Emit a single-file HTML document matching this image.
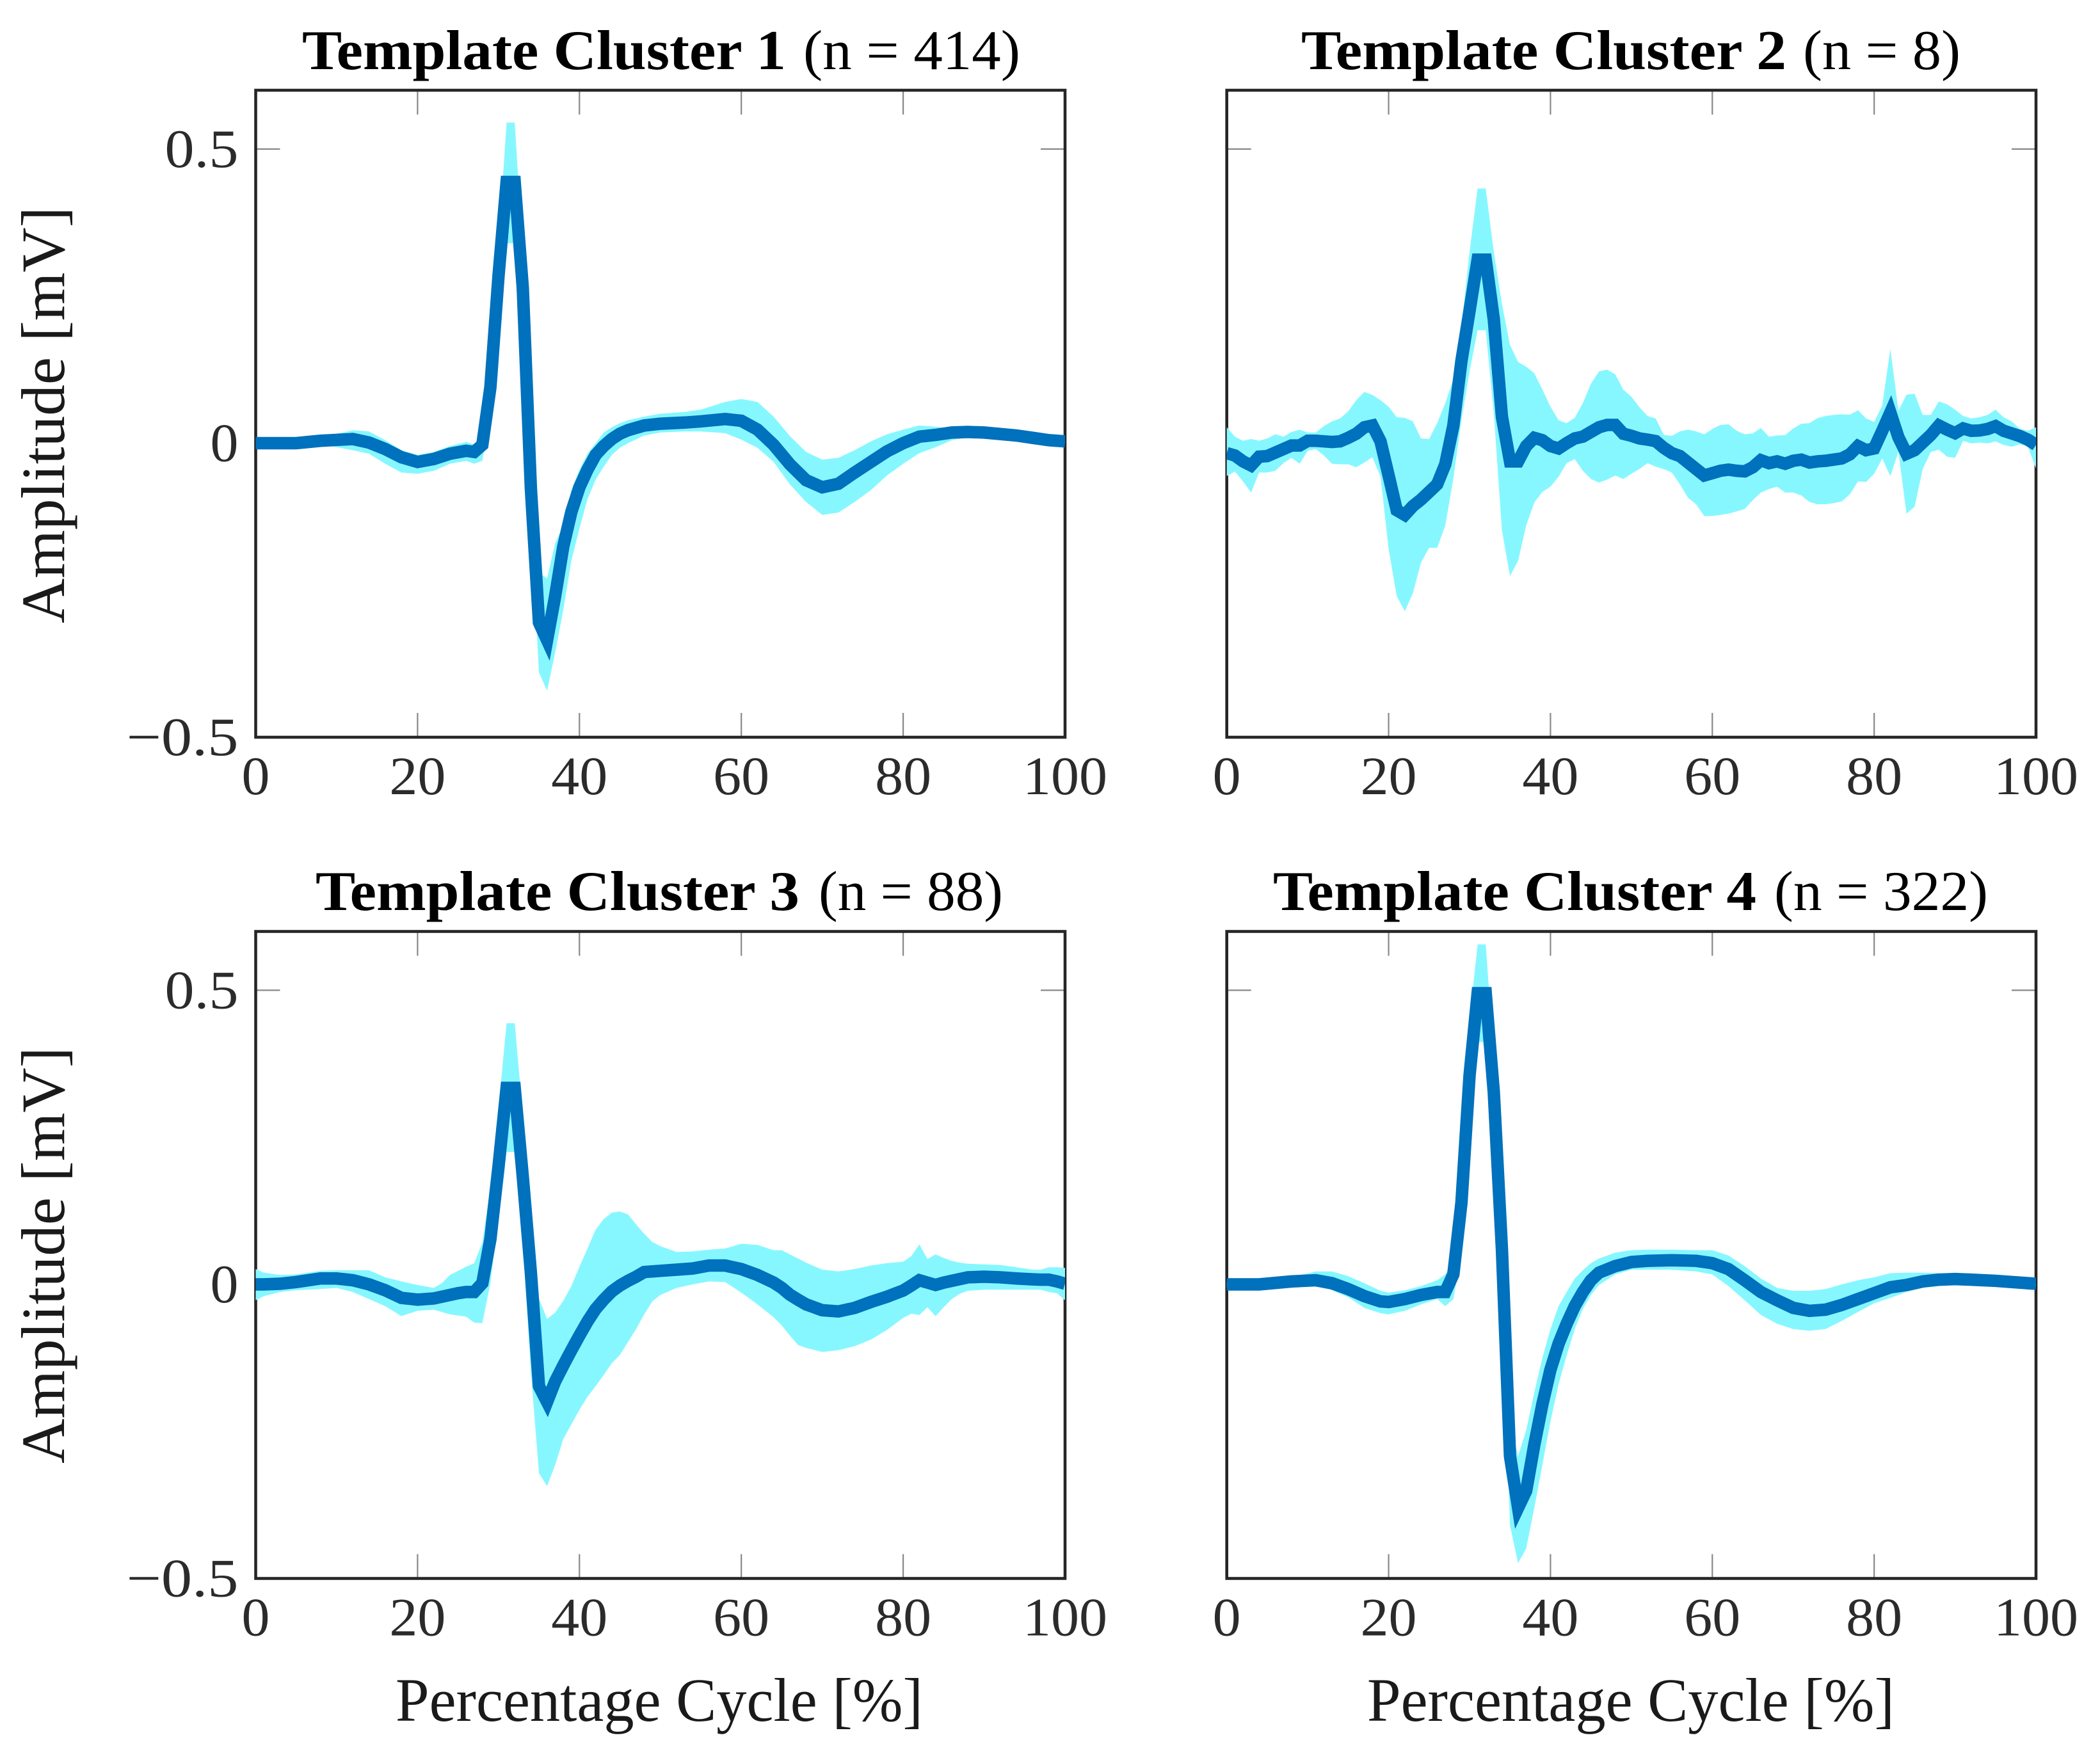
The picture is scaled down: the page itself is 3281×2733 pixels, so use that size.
<!DOCTYPE html>
<html lang="en">
<head>
<meta charset="utf-8">
<title>Template Clusters</title>
<style>
html,body{margin:0;padding:0;background:#fff;}
svg{display:block;}
text{font-family:"Liberation Serif",serif;}
.title{font-size:88px;fill:#000;}
.tb{font-weight:bold;}
.axl{font-size:96px;fill:#1a1a1a;}
.tick{font-size:85px;fill:#2b2b2b;}
</style>
</head>
<body>
<svg id="chart" xmlns="http://www.w3.org/2000/svg" width="3281" height="2733" viewBox="0 0 3281 2733">
  <rect x="0" y="0" width="3281" height="2733" fill="#fff"/>
  <defs>
    <clipPath id="clip-1"><rect x="399.5" y="141" width="1264.5" height="1011"/></clipPath>
    <clipPath id="clip-2"><rect x="1916.7" y="141" width="1264.3" height="1011"/></clipPath>
    <clipPath id="clip-3"><rect x="399.5" y="1455.5" width="1264.5" height="1011"/></clipPath>
    <clipPath id="clip-4"><rect x="1916.7" y="1455.5" width="1264.3" height="1011"/></clipPath>
  </defs>

  <g>
    <text class="title tb" x="472" y="108" textLength="756" lengthAdjust="spacingAndGlyphs">Template Cluster 1</text>
    <text class="title" x="1255" y="108" textLength="339" lengthAdjust="spacingAndGlyphs">(n = 414)</text>
    <text class="title tb" x="2033" y="108" textLength="758" lengthAdjust="spacingAndGlyphs">Template Cluster 2</text>
    <text class="title" x="2817" y="108" textLength="246" lengthAdjust="spacingAndGlyphs">(n = 8)</text>
    <text class="title tb" x="493" y="1422" textLength="756" lengthAdjust="spacingAndGlyphs">Template Cluster 3</text>
    <text class="title" x="1279" y="1422" textLength="288" lengthAdjust="spacingAndGlyphs">(n = 88)</text>
    <text class="title tb" x="1989" y="1422" textLength="755" lengthAdjust="spacingAndGlyphs">Template Cluster 4</text>
    <text class="title" x="2772" y="1422" textLength="334" lengthAdjust="spacingAndGlyphs">(n = 322)</text>
  </g>

  <text class="axl" transform="translate(100 974) rotate(-90)" x="0" y="0" textLength="651" lengthAdjust="spacingAndGlyphs">Amplitude [mV]</text>
  <text class="axl" transform="translate(100 2287) rotate(-90)" x="0" y="0" textLength="651" lengthAdjust="spacingAndGlyphs">Amplitude [mV]</text>
  <text class="axl" x="618" y="2689" textLength="824" lengthAdjust="spacingAndGlyphs">Percentage Cycle [%]</text>
  <text class="axl" x="2136" y="2689" textLength="824" lengthAdjust="spacingAndGlyphs">Percentage Cycle [%]</text>
</svg>

<script>
const xTicks = [0, 20, 40, 60, 80, 100];
const yTicks = [-0.5, 0, 0.5];
const yTickLabels = ["\u22120.5", "0", "0.5"];
const xMin = 0, xMax = 100, yMin = -0.5, yMax = 0.6;

/* Cluster 1 */
const pct1 = [0,5,8,12,14,16,18,20,22,24,26,27,28,29,30,31,32,33,34,35,36,37,38,39,40,41,42,43,44,45,46,48,50,53,55,58,60,62,64,66,68,70,72,74,76,78,80,82,84,86,88,90,94,96,98,100];
const mean1 = [0,0,.004,.007,.001,-.01,-.024,-.032,-.027,-.018,-.013,-.015,-.003,.095,.284,.444,.444,.264,-.077,-.305,-.335,-.26,-.176,-.117,-.075,-.045,-.02,-.005,.007,.016,.022,.03,.033,.035,.037,.041,.038,.023,-.003,-.036,-.063,-.075,-.069,-.05,-.032,-.014,0,.011,.014,.018,.019,.018,.013,.009,.005,.003];
const upper1 = [.003,.003,.01,.022,.02,.005,-.012,-.02,-.015,-.005,.002,-.002,.01,.13,.34,.545,.545,.33,.02,-.22,-.23,-.17,-.14,-.08,-.045,-.018,0,.018,.027,.034,.039,.045,.05,.053,.057,.07,.075,.07,.045,.012,-.015,-.028,-.025,-.012,.003,.015,.023,.03,.028,.025,.024,.022,.016,.012,.008,.005];
const lower1 = [-.003,-.004,-.002,-.012,-.018,-.035,-.05,-.052,-.047,-.035,-.03,-.035,-.03,.05,.2,.34,.34,.19,-.14,-.39,-.421,-.356,-.284,-.2,-.145,-.095,-.062,-.04,-.02,-.008,0,.013,.018,.02,.02,.017,.006,-.008,-.032,-.07,-.1,-.122,-.118,-.1,-.08,-.055,-.035,-.017,-.007,.005,.01,.013,.01,.006,.003,.001];

/* Cluster 2 */
const pct2 = [0,1,2,3,4,5,6,7,8,9,10,11,12,13,14,15,16,17,18,19,20,21,22,23,24,25,26,27,28,29,30,31,32,33,34,35,36,37,38,39,40,41,42,43,44,45,46,47,48,49,50,51,52,53,54,55,56,57,58,59,60,61,62,63,64,65,66,67,68,69,70,71,72,73,74,75,76,77,78,79,80,81,82,83,84,85,86,87,88,89,90,91,92,93,94,95,96,97,98,99,100];
const mean2 = [-.017,-.021,-.031,-.038,-.023,-.022,-.016,-.01,-.004,-.004,.004,.004,.003,.002,.003,.009,.016,.027,.03,.003,-.055,-.114,-.122,-.107,-.096,-.083,-.07,-.036,.03,.14,.225,.312,.312,.21,.045,-.031,-.031,-.005,.009,.005,-.005,-.009,0,.008,.011,.019,.027,.031,.031,.016,.0125,.008,.006,.0035,-.008,-.017,-.022,-.033,-.044,-.055,-.051,-.047,-.045,-.047,-.048,-.041,-.029,-.034,-.031,-.035,-.03,-.028,-.033,-.031,-.03,-.028,-.026,-.019,-.005,-.012,-.009,.021,.052,.01,-.018,-.012,.001,.014,.03,.023,.017,.025,.021,.0215,.024,.029,.021,.0165,.012,.006,-.003];
const upper2 = [.027,.011,.004,.007,.004,.008,.015,.011,.019,.023,.018,.018,.029,.037,.042,.054,.073,.087,.082,.073,.062,.044,.043,.037,.008,.007,.034,.068,.109,.2,.325,.433,.433,.325,.237,.167,.138,.13,.119,.091,.062,.039,.034,.043,.068,.101,.122,.125,.117,.091,.079,.061,.046,.042,.014,.0125,.02,.023,.02,.015,.024,.031,.032,.021,.015,.0165,.0256,.011,.013,.0136,.025,.033,.034,.0426,.046,.048,.049,.0484,.056,.042,.036,.064,.16,.055,.0825,.084,.048,.048,.071,.066,.057,.046,.042,.044,.048,.057,.044,.037,.0245,.021,.027];
const lower2 = [-.056,-.048,-.065,-.084,-.05,-.05,-.047,-.034,-.025,-.035,-.013,-.01,-.021,-.035,-.036,-.036,-.041,-.033,-.024,-.057,-.18,-.26,-.286,-.255,-.203,-.178,-.178,-.14,-.06,.039,.122,.192,.192,.05,-.148,-.226,-.2,-.14,-.101,-.083,-.074,-.057,-.034,-.027,-.047,-.061,-.067,-.062,-.055,-.061,-.052,-.044,-.034,-.04,-.044,-.05,-.07,-.093,-.104,-.124,-.124,-.122,-.12,-.116,-.112,-.097,-.084,-.078,-.074,-.084,-.084,-.089,-.1,-.104,-.104,-.102,-.099,-.087,-.065,-.066,-.052,-.026,-.056,-.015,-.12,-.108,-.044,-.015,-.011,-.023,-.025,.004,-.0005,.001,-.0005,.003,-.003,-.006,-.002,-.006,-.043];

/* Cluster 3 */
const pct3 = [0,1,3,5,8,10,12,14,16,18,20,22,23,24,25,26,27,28,29,30,31,32,33,34,35,36,37,38,39,40,41,42,43,44,45,46,47,48,49,50,52,54,56,58,60,62,64,65,66,67,68,70,72,74,76,78,80,81,82,83,84,85,86,87,88,90,92,94,96,97,98,99,100];
const mean3 = [0,0,.001,.004,.01,.01,.007,0,-.01,-.023,-.026,-.024,-.021,-.018,-.015,-.013,-.013,.002,.077,.2,.334,.334,.183,.02,-.173,-.2,-.165,-.138,-.112,-.087,-.063,-.042,-.026,-.012,-.002,.006,.013,.021,.022,.023,.025,.027,.032,.032,.026,.016,.003,-.006,-.0175,-.026,-.034,-.044,-.046,-.04,-.03,-.021,-.0105,-.002,.007,.003,-.001,.003,.006,.009,.012,.013,.012,.01,.0085,.008,.008,.005,.001];
const upper3 = [.026,.02,.016,.017,.023,.024,.024,.024,.012,.005,-.001,-.006,.002,.016,.023,.03,.036,.071,.165,.3,.444,.444,.29,.146,-.024,-.059,-.048,-.028,-.003,.03,.061,.093,.111,.122,.124,.119,.102,.086,.072,.065,.055,.056,.059,.061,.069,.067,.058,.058,.051,.044,.037,.025,.022,.026,.032,.036,.0385,.048,.068,.043,.051,.045,.04,.037,.035,.034,.033,.029,.025,.025,.029,.029,.028];
const lower3 = [-.027,-.02,-.013,-.01,-.008,-.006,-.013,-.025,-.037,-.054,-.045,-.043,-.047,-.051,-.053,-.055,-.065,-.066,.002,.115,.225,.225,.07,-.148,-.321,-.343,-.307,-.263,-.238,-.213,-.191,-.173,-.154,-.134,-.12,-.098,-.076,-.051,-.029,-.018,-.006,0,.005,.004,-.014,-.034,-.056,-.07,-.087,-.103,-.108,-.115,-.112,-.105,-.094,-.0775,-.057,-.05,-.052,-.039,-.054,-.039,-.025,-.016,-.011,-.009,-.009,-.009,-.009,-.009,-.013,-.015,-.027];

/* Cluster 4 */
const pct4 = [0,4,8,11,13,15,17,19,20,22,24,26,27,28,29,30,31,32,33,34,35,36,37,38,39,40,41,42,43,44,45,46,48,50,52,55,58,60,62,64,66,68,70,72,74,76,78,80,82,84,86,88,90,92,95,100];
const mean4 = [0,0,.005,.007,.002,-.008,-.02,-.029,-.03,-.025,-.018,-.013,-.013,.017,.139,.355,.495,.495,.326,.06,-.292,-.38,-.351,-.273,-.204,-.145,-.101,-.067,-.037,-.013,.007,.02,.031,.038,.04,.041,.04,.036,.026,.007,-.013,-.027,-.04,-.045,-.043,-.035,-.025,-.015,-.005,-.001,.005,.008,.009,.008,.006,.001];
const upper4 = [.004,.004,.012,.022,.022,.014,.002,-.011,-.014,-.01,-.003,.007,.017,.041,.23,.45,.578,.578,.385,.159,-.233,-.292,-.248,-.184,-.125,-.076,-.037,-.013,.01,.024,.036,.044,.054,.058,.059,.059,.058,.058,.049,.031,.01,-.006,-.011,-.011,-.008,0,.007,.012,.019,.02,.02,.019,.018,.015,.01,.005];
const lower4 = [-.005,-.005,-.003,-.003,-.01,-.022,-.04,-.049,-.051,-.045,-.034,-.025,-.037,-.025,.051,.267,.412,.412,.257,-.018,-.41,-.474,-.449,-.38,-.307,-.233,-.17,-.121,-.076,-.042,-.018,-.001,.017,.025,.025,.025,.022,.017,-.003,-.027,-.052,-.067,-.076,-.079,-.076,-.062,-.047,-.032,-.023,-.013,-.006,-.003,-.001,0,0,-.003];

const SVG_NS = "http://www.w3.org/2000/svg";
const svg = document.getElementById("chart");

function makeXScale(left, right) {
  return function (v) { return left + (v - xMin) / (xMax - xMin) * (right - left); };
}
function makeYScale(top, bottom) {
  return function (v) { return bottom - (v - yMin) / (yMax - yMin) * (bottom - top); };
}
function node(tag, parent) {
  const el = document.createElementNS(SVG_NS, tag);
  parent.appendChild(el);
  return el;
}
function labelWidth(s) {
  let w = 0;
  for (const c of s) { w += c === "." ? 27 : (c === "\u2212" ? 60 : 44); }
  return w;
}
function drawTick(parent, name, x1, y1, x2, y2) {
  const t = node("line", parent);
  
  
  t.setAttribute("x1", x1);
  t.setAttribute("y1", y1);
  t.setAttribute("x2", x2);
  t.setAttribute("y2", y2);
  t.setAttribute("stroke", "#888");
  t.setAttribute("stroke-width", "2.2");
}

function drawPanel(id, left, right, top, bottom, xs, mean, upper, lower, showY) {
  const sx = makeXScale(left, right);
  const sy = makeYScale(top, bottom);
  const g = node("g", svg);
  
  

  const TL = 38;
  xTicks.forEach(function (v) {
    if (v > xMin && v < xMax) {
      drawTick(g, "x-tick-mark-bottom", sx(v), bottom, sx(v), bottom - TL);
      drawTick(g, "x-tick-mark-top", sx(v), top, sx(v), top + TL);
    }
    const s = String(v);
    const lab = node("text", g);
    
    
    lab.setAttribute("class", "tick");
    lab.setAttribute("x", sx(v));
    lab.setAttribute("y", bottom + 89);
    lab.setAttribute("text-anchor", "middle");
    lab.setAttribute("textLength", labelWidth(s));
    lab.setAttribute("lengthAdjust", "spacingAndGlyphs");
    lab.textContent = s;
  });
  yTicks.forEach(function (v, i) {
    if (v > yMin) {
      drawTick(g, "y-tick-mark-left", left, sy(v), left + TL, sy(v));
      drawTick(g, "y-tick-mark-right", right, sy(v), right - TL, sy(v));
    }
    if (showY) {
      const lab = node("text", g);
      
      
      lab.setAttribute("class", "tick");
      lab.setAttribute("x", left - 27);
      lab.setAttribute("y", sy(v) + 28);
      lab.setAttribute("text-anchor", "end");
      lab.setAttribute("textLength", labelWidth(yTickLabels[i]));
      lab.setAttribute("lengthAdjust", "spacingAndGlyphs");
      lab.textContent = yTickLabels[i];
    }
  });

  const frame = node("rect", g);
  
  
  frame.setAttribute("x", left);
  frame.setAttribute("y", top);
  frame.setAttribute("width", right - left);
  frame.setAttribute("height", bottom - top);
  frame.setAttribute("fill", "none");
  frame.setAttribute("stroke", "#262626");
  frame.setAttribute("stroke-width", "4.6");

  let bandD = "";
  xs.forEach(function (x, i) { bandD += (i ? "L" : "M") + sx(x).toFixed(2) + " " + sy(upper[i]).toFixed(2); });
  for (let i = xs.length - 1; i >= 0; i--) { bandD += "L" + sx(xs[i]).toFixed(2) + " " + sy(lower[i]).toFixed(2); }
  bandD += "Z";
  const band = node("path", g);
  
  
  band.setAttribute("d", bandD);
  band.setAttribute("fill", "#87f7ff");
  band.setAttribute("stroke", "none");

  let lineD = "";
  xs.forEach(function (x, i) { lineD += (i ? "L" : "M") + sx(x).toFixed(2) + " " + sy(mean[i]).toFixed(2); });
  const line = node("path", g);
  
  
  line.setAttribute("d", lineD);
  line.setAttribute("fill", "none");
  line.setAttribute("stroke", "#0071bc");
  line.setAttribute("stroke-width", "19.5");
  line.setAttribute("stroke-linejoin", "miter");
  line.setAttribute("stroke-miterlimit", "10");
  line.setAttribute("clip-path", "url(#clip-" + id + ")");
}

drawPanel(1, 399.5, 1664, 141, 1152, pct1, mean1, upper1, lower1, true);
drawPanel(2, 1916.7, 3181, 141, 1152, pct2, mean2, upper2, lower2, false);
drawPanel(3, 399.5, 1664, 1455.5, 2466.5, pct3, mean3, upper3, lower3, true);
drawPanel(4, 1916.7, 3181, 1455.5, 2466.5, pct4, mean4, upper4, lower4, false);
</script>
</body>
</html>
